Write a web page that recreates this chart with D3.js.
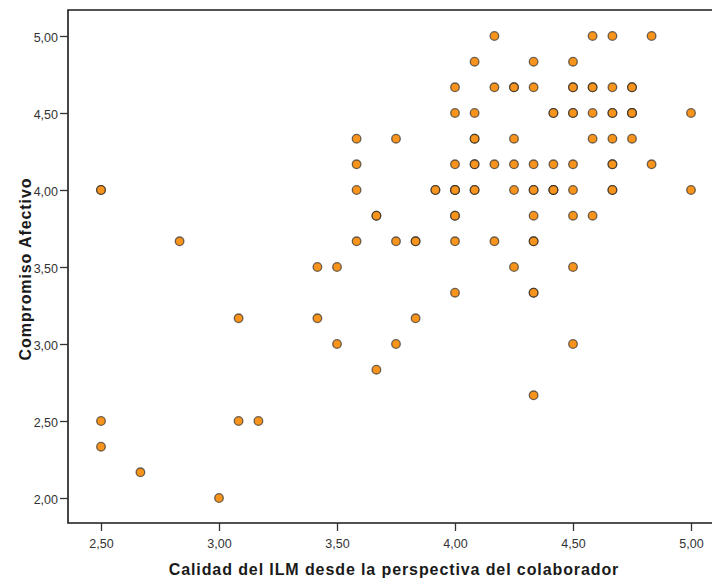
<!DOCTYPE html>
<html>
<head>
<meta charset="utf-8">
<script src="https://cdn.jsdelivr.net/npm/d3@7"></script>
<style>
  html, body { margin: 0; padding: 0; background: #fff; }
  svg { display: block; }
</style>
</head>
<body>
<svg id="chart" width="712" height="579"></svg>
<script>
// Calidad del ILM (x) and Compromiso Afectivo (y), one entry per respondent
const calidadILM = [
  4.167, 4.583, 4.667, 4.833,
  4.083, 4.333, 4.5,
  4.0, 4.167, 4.25, 4.25, 4.333, 4.5, 4.5, 4.583, 4.583, 4.667, 4.75, 4.75,
  4.0, 4.083, 4.417, 4.417, 4.5, 4.5, 4.583, 4.667, 4.667, 4.75, 4.75, 4.75, 5.0,
  3.583, 3.75, 4.083, 4.083, 4.25, 4.583, 4.667, 4.75,
  3.583, 4.0, 4.083, 4.083, 4.167, 4.25, 4.333, 4.417, 4.5, 4.667, 4.667, 4.833,
  2.5, 2.5, 3.583, 3.917, 3.917, 4.0, 4.0, 4.0, 4.083, 4.083, 4.25, 4.333, 4.333, 4.417, 4.417, 4.417, 4.5, 4.667, 4.667, 5.0,
  3.667, 3.667, 4.0, 4.0, 4.333, 4.5, 4.583,
  2.833, 3.583, 3.75, 3.833, 3.833, 4.0, 4.167, 4.333, 4.333,
  3.417, 3.5, 4.25, 4.5,
  4.0, 4.333, 4.333,
  3.083, 3.417, 3.833,
  3.5, 3.75, 4.5,
  3.667,
  4.333,
  2.5, 3.083, 3.167,
  2.5,
  2.667,
  3.0
];
const compromisoAfectivo = [
  5.0, 5.0, 5.0, 5.0,
  4.833, 4.833, 4.833,
  4.667, 4.667, 4.667, 4.667, 4.667, 4.667, 4.667, 4.667, 4.667, 4.667, 4.667, 4.667,
  4.5, 4.5, 4.5, 4.5, 4.5, 4.5, 4.5, 4.5, 4.5, 4.5, 4.5, 4.5, 4.5,
  4.333, 4.333, 4.333, 4.333, 4.333, 4.333, 4.333, 4.333,
  4.167, 4.167, 4.167, 4.167, 4.167, 4.167, 4.167, 4.167, 4.167, 4.167, 4.167, 4.167,
  4.0, 4.0, 4.0, 4.0, 4.0, 4.0, 4.0, 4.0, 4.0, 4.0, 4.0, 4.0, 4.0, 4.0, 4.0, 4.0, 4.0, 4.0, 4.0, 4.0,
  3.833, 3.833, 3.833, 3.833, 3.833, 3.833, 3.833,
  3.667, 3.667, 3.667, 3.667, 3.667, 3.667, 3.667, 3.667, 3.667,
  3.5, 3.5, 3.5, 3.5,
  3.333, 3.333, 3.333,
  3.167, 3.167, 3.167,
  3.0, 3.0, 3.0,
  2.833,
  2.667,
  2.5, 2.5, 2.5,
  2.333,
  2.167,
  2.0
];

const xTicks = [2.5, 3.0, 3.5, 4.0, 4.5, 5.0];
const yTicks = [2.0, 2.5, 3.0, 3.5, 4.0, 4.5, 5.0];

const xTitle = "Calidad del ILM desde la perspectiva del colaborador";
const yTitle = "Compromiso Afectivo";

const svg = d3.select("#chart");

const frameLeft = 68, frameRight = 716, frameTop = 10, frameBottom = 523;
const font = "Liberation Sans, Arial, sans-serif";

const x = d3.scaleLinear().domain([2.5, 5.0]).range([101, 691]);
const y = d3.scaleLinear().domain([2.0, 5.0]).range([498, 36]);

const fmt = v => d3.format(".2f")(v).replace(".", ",");

// plot frame (open to the right edge)
svg.append("path")
  .attr("d", `M${frameRight},${frameTop}H${frameLeft}V${frameBottom}H${frameRight}`)
  .attr("fill", "none")
  .attr("stroke", "#1a1a1a")
  .attr("stroke-width", 1.6);

// axes
const xAxis = svg.append("g")
  .attr("transform", `translate(0,${frameBottom})`)
  .call(d3.axisBottom(x).tickValues(xTicks).tickFormat(fmt).tickSize(8).tickPadding(8));
const yAxis = svg.append("g")
  .attr("transform", `translate(${frameLeft},0)`)
  .call(d3.axisLeft(y).tickValues(yTicks).tickFormat(fmt).tickSize(8).tickPadding(2));

[xAxis, yAxis].forEach(g => {
  g.select(".domain").remove();
  g.selectAll(".tick line").attr("stroke", "#333").attr("stroke-width", 1.3);
  g.selectAll(".tick text")
    .attr("fill", "#333")
    .attr("font-family", font)
    .attr("font-size", 12.5);
});
yAxis.selectAll(".tick text").attr("dy", "0.40em");

// axis titles
svg.append("text")
  .attr("x", 394)
  .attr("y", 575)
  .attr("text-anchor", "middle")
  .attr("font-family", font)
  .attr("font-weight", "bold")
  .attr("font-size", 16)
  .attr("letter-spacing", 0.9)
  .attr("fill", "#1a1a1a")
  .text(xTitle);

svg.append("text")
  .attr("transform", `translate(31,${269}) rotate(-90)`)
  .attr("text-anchor", "middle")
  .attr("font-family", font)
  .attr("font-weight", "bold")
  .attr("font-size", 16)
  .attr("letter-spacing", 0.9)
  .attr("fill", "#1a1a1a")
  .text(yTitle);

// points
svg.append("g")
  .selectAll("circle")
  .data(d3.range(calidadILM.length))
  .join("circle")
  .attr("cx", i => x(calidadILM[i]))
  .attr("cy", i => y(compromisoAfectivo[i]))
  .attr("r", 4.3)
  .attr("fill", "#f7941d")
  .attr("stroke", "#222")
  .attr("stroke-opacity", 0.65)
  .attr("stroke-width", 1.3);
</script>
</body>
</html>
